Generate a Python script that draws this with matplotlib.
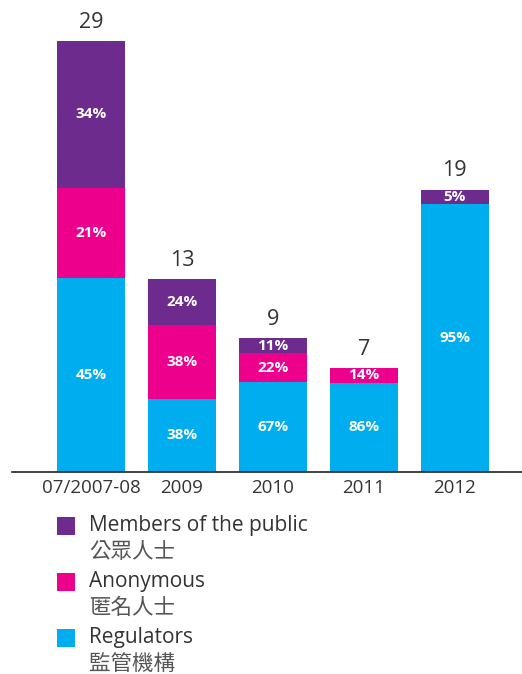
import matplotlib.pyplot as plt
from matplotlib.patches import Rectangle
import numpy as np

# dados do gráfico
periods = ['07/2007-08', '2009', '2010', '2011', '2012']
totals = [29, 13, 9, 7, 19]
regulators = [45, 38, 67, 86, 95]   # %
anonymous = [21, 38, 22, 14, 0]     # %
public = [34, 24, 11, 0, 5]         # %

series_names = ['Members of the public', 'Anonymous', 'Regulators']
series_cn = ['公眾人士', '匿名人士', '監管機構']
colors = {'Regulators': '#00aeef', 'Anonymous': '#ec008c', 'Members of the public': '#6d2c8d'}

plt.rcParams['font.family'] = ['Open Sans', 'Noto Sans CJK TC', 'DejaVu Sans']

fig = plt.figure(figsize=(5.22, 6.74), dpi=100)
ax = fig.add_axes([0.023, 0.2997, 0.977, 0.7003])

x = np.arange(len(periods))
w = 0.748
totals_a = np.array(totals, dtype=float)
bottom = np.zeros(len(periods))

stack = [('Regulators', regulators), ('Anonymous', anonymous), ('Members of the public', public)]
for name, pct in stack:
    vals = totals_a * np.array(pct) / 100.0
    ax.bar(x, vals, w, bottom=bottom, color=colors[name], linewidth=0)
    for xi, b, v, p in zip(x, bottom, vals, pct):
        if p > 0:
            ax.text(xi, b + v / 2, f'{p}%', ha='center', va='center', color='white',
                    fontsize=11, fontweight='bold')
    bottom += vals

# totais acima das barras
for xi, t in zip(x, totals):
    ax.text(xi, t + 0.55, str(t), ha='center', va='bottom', fontsize=15.5, color='#333333')

ax.set_xlim(-0.869, 4.741)
ax.set_ylim(0, 31.76)
ax.set_xticks(x)
ax.set_xticklabels(periods, fontsize=13.5, color='#333333')
ax.tick_params(axis='x', length=0, pad=5)
ax.set_yticks([])
for s in ['top', 'right', 'left']:
    ax.spines[s].set_visible(False)
ax.spines['bottom'].set_color('#222222')
ax.spines['bottom'].set_linewidth(1.2)

# legenda manual
H = 674.0
for i, (name, cn) in enumerate(zip(series_names, series_cn)):
    y0 = 525 + i * 56
    fig.patches.append(Rectangle((57 / 522, 1 - (y0 + 10) / H), 18 / 522, 18 / H,
                                 transform=fig.transFigure, color=colors[name], linewidth=0))
    fig.text(89 / 522, 1 - y0 / H, name, ha='left', va='center', fontsize=15,
             color='#333333')
    fig.text(89 / 522, 1 - (y0 + 27) / H, cn, ha='left', va='center', fontsize=15.5,
             color='#555555', family=['Noto Sans CJK TC', 'DejaVu Sans'])

fig.savefig('out.png', dpi=100)
